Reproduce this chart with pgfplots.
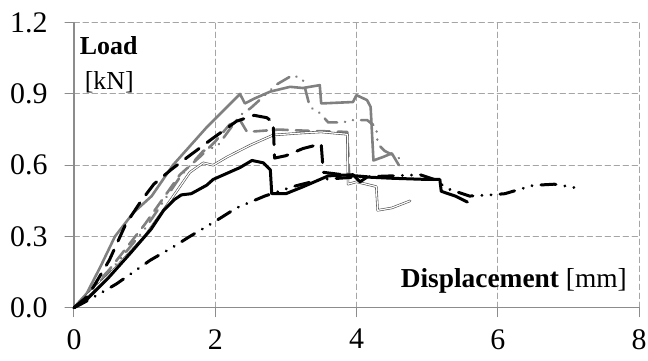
\documentclass[border=0pt]{standalone}
\usepackage{fontspec}
\setmainfont{Liberation Serif}
\usepackage{pgfplots}
\pgfplotsset{compat=1.18}

\definecolor{curvegray}{RGB}{128,128,128}
\definecolor{gridgray}{RGB}{165,165,165}
\definecolor{axisgray}{RGB}{140,140,140}

\begin{document}
\begin{tikzpicture}
\begin{axis}[
  scale only axis, width=565bp, height=285bp,
  xmin=0, xmax=8, ymin=0, ymax=1.2,
  xtick={0,2,4,6,8}, ytick={0,0.3,0.6,0.9,1.2},
  axis x line*=bottom, axis y line*=left,
  axis line style={-, axisgray, line width=1.4bp},
  tick style={axisgray, line width=1bp},
  major tick length=9bp, tick align=outside,
  grid=major,
  major grid style={gridgray, line width=1bp, dash pattern=on 5.5bp off 3.5bp},
  /pgf/number format/assume math mode=true,
  yticklabel style={xshift=-14bp, /pgf/number format/.cd, fixed, fixed zerofill, precision=1},
  xticklabel style={yshift=-9bp},
  ticklabel style={font=\fontsize{30}{34}\selectfont},
  clip=false,
  line join=round, line cap=round,
]
% gray solid specimen
\addplot[curvegray, line width=2.6bp] coordinates {
 (0,0) (0.18,0.06) (0.37,0.17) (0.58,0.3) (0.84,0.4) (1.1,0.47) (1.4,0.6)
 (1.88,0.76) (2.35,0.9) (2.42,0.86) (2.55,0.88) (2.78,0.91) (3.06,0.93)
 (3.24,0.925) (3.48,0.937) (3.5,0.86) (3.95,0.866) (4.0,0.895) (4.15,0.874)
 (4.2,0.845) (4.24,0.62) (4.38,0.635) (4.5,0.65) (4.6,0.6)};
% gray dashed specimen
\addplot[curvegray, line width=2.6bp, dash pattern=on 13bp off 8bp] coordinates {
 (0,0) (0.5,0.16) (1.0,0.35) (1.5,0.56) (1.8,0.64) (2.0,0.7) (2.2,0.77)
 (2.35,0.79) (2.45,0.74) (2.9,0.75) (3.3,0.745) (3.87,0.74) (3.9,0.53)};
% gray dash-dot-dot specimen
\addplot[curvegray, line width=2.6bp, dash pattern=on 14bp off 8bp on 0.1bp off 8bp on 0.1bp off 8bp] coordinates {
 (0,0) (0.5,0.15) (1.0,0.33) (1.5,0.55) (1.83,0.66) (2.03,0.68) (2.35,0.81)
 (2.5,0.84) (2.87,0.94) (3.1,0.98) (3.24,0.96) (3.34,0.845) (3.48,0.82)
 (3.6,0.78) (3.8,0.78) (3.95,0.79) (4.15,0.79) (4.28,0.76) (4.3,0.69)
 (4.4,0.66) (4.6,0.63)};
% double-line specimen
\addplot[black!70, line width=0.6bp, double=white, double distance=1.2bp] coordinates {
 (0,0) (0.5,0.14) (1.0,0.3) (1.36,0.45) (1.64,0.57) (1.83,0.61) (1.97,0.6)
 (2.17,0.635) (2.5,0.685) (2.82,0.727) (3.2,0.735) (3.5,0.74) (3.87,0.73)
 (3.88,0.52) (4.0,0.53) (4.28,0.51) (4.3,0.41) (4.5,0.42) (4.76,0.45)};
% black dash-dot-dot specimen
\addplot[black, line width=3bp, dash pattern=on 15bp off 9bp on 0.1bp off 9bp on 0.1bp off 9bp] coordinates {
 (0,0) (0.13,0.02) (0.37,0.06) (0.6,0.1) (1.08,0.2) (1.4,0.255) (1.64,0.3)
 (1.98,0.36) (2.3,0.42) (2.7,0.47) (3.1,0.51) (3.5,0.54) (4.0,0.55)
 (4.5,0.555) (4.9,0.56) (5.1,0.54) (5.3,0.5) (5.6,0.47) (5.9,0.475)
 (6.1,0.48) (6.5,0.515) (6.8,0.52) (7.0,0.51) (7.2,0.5)};
% black dashed specimen
\addplot[black, line width=3bp, dash pattern=on 17bp off 10bp] coordinates {
 (0,0) (0.2,0.05) (0.5,0.2) (0.73,0.35) (0.94,0.445) (1.13,0.52) (1.37,0.58)
 (1.5,0.61) (1.95,0.71) (2.3,0.785) (2.55,0.81) (2.73,0.8) (2.82,0.78)
 (2.84,0.63) (3.0,0.64) (3.24,0.67) (3.5,0.69) (3.53,0.57) (3.8,0.56) (4.2,0.55)};
% black solid specimen
\addplot[black, line width=3bp] coordinates {
 (0,0) (0.2,0.04) (0.5,0.13) (0.8,0.23) (1.09,0.33) (1.27,0.41) (1.42,0.455)
 (1.52,0.475) (1.66,0.48) (1.88,0.516) (1.97,0.54) (2.35,0.59) (2.52,0.62)
 (2.68,0.61) (2.78,0.58) (2.8,0.48) (3.0,0.48) (3.25,0.51) (3.6,0.555)
 (3.95,0.56) (4.05,0.53) (4.15,0.55) (4.5,0.545) (5.0,0.54) (5.18,0.54)
 (5.2,0.49) (5.4,0.47) (5.57,0.445)};

\node[anchor=base west, font=\fontsize{26}{30}\selectfont\bfseries, inner sep=0pt]
  at (axis cs:0.08,1.064) {Load};
\node[anchor=base west, font=\fontsize{26}{30}\selectfont, inner sep=0pt]
  at (axis cs:0.15,0.917) {[kN]};
\node[anchor=base east, font=\fontsize{27.5}{32}\selectfont, inner sep=0pt]
  at (axis cs:7.83,0.083) {\textbf{Displacement} [mm]};
\end{axis}
\pgfresetboundingbox
\path ([shift={(-74bp,-53.3bp)}]current axis.south west)
  rectangle ([shift={(9bp,22.7bp)}]current axis.north east);
\end{tikzpicture}
\end{document}
